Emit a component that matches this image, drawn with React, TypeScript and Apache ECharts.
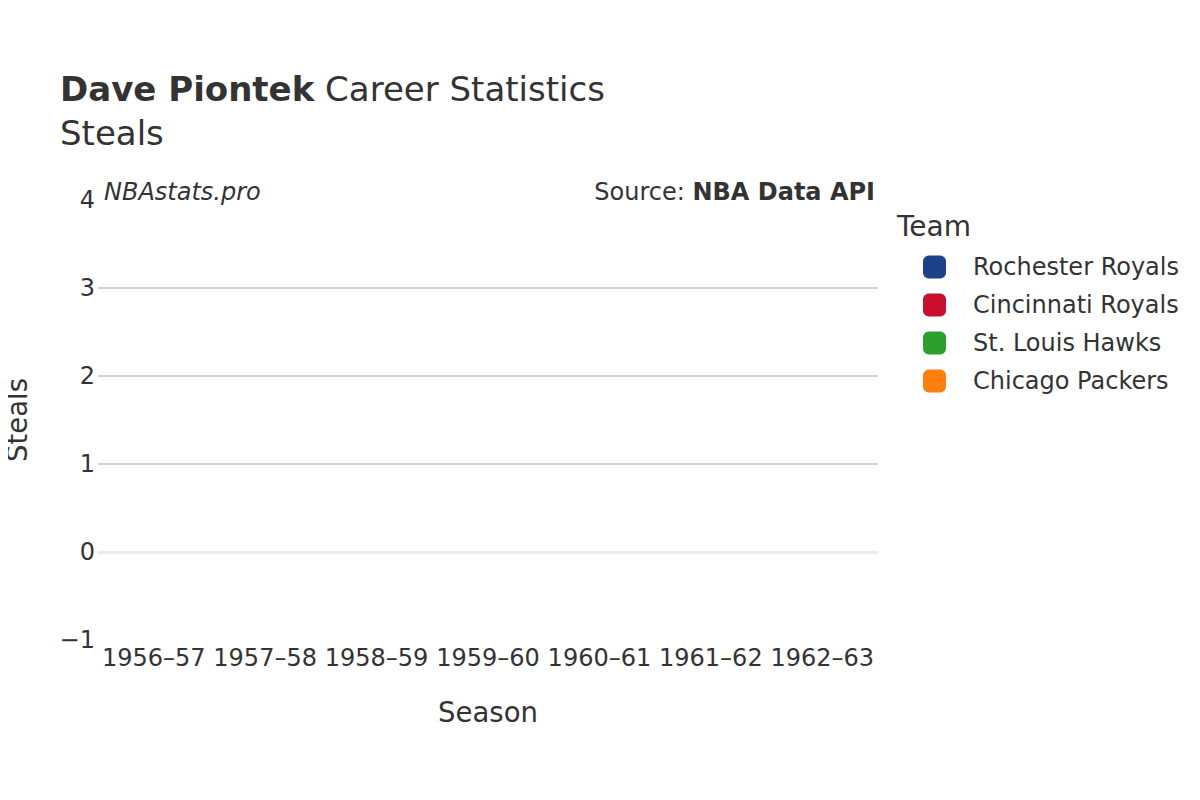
import React, { useEffect, useRef } from "react";
import * as echarts from "echarts";

const seasons = ["1956–57", "1957–58", "1958–59", "1959–60", "1960–61", "1961–62", "1962–63"];
const teams = ["Rochester Royals", "Cincinnati Royals", "St. Louis Hawks", "Chicago Packers"];
const teamColors = ["#1d428a", "#c8102e", "#2ca02c", "#ff7f0e"];
// No steals were recorded for any season (stat not tracked then)
const rochesterSteals: (number | null)[] = [];
const cincinnatiSteals: (number | null)[] = [];
const stLouisSteals: (number | null)[] = [];
const chicagoSteals: (number | null)[] = [];
const teamValues = [rochesterSteals, cincinnatiSteals, stLouisSteals, chicagoSteals];
const yMin = -1;
const yMax = 4;

const FONT = "DejaVu Sans, Verdana, sans-serif";
const TXT = "#333333";

export default function App() {
  const ref = useRef<HTMLDivElement>(null);
  useEffect(() => {
    if (!ref.current) return;
    const chart = echarts.init(ref.current, undefined, { renderer: "svg" });
    const series: any[] = teams.map((t, i) => ({
      name: t,
      type: "line",
      data: teamValues[i],
      itemStyle: { color: teamColors[i] },
      lineStyle: { color: teamColors[i] },
      ...(i === 0
        ? {
            markLine: {
              silent: true,
              symbol: "none",
              label: { show: false },
              lineStyle: { color: "#ebebeb", width: 3, type: "solid" },
              data: [{ yAxis: 0 }],
            },
          }
        : {}),
    }));
    chart.setOption({
      animation: false,
      backgroundColor: "#ffffff",
      textStyle: { fontFamily: FONT, color: TXT },
      title: [
        {
          text: "{b|Dave Piontek} Career Statistics\nSteals",
          left: 55,
          top: 62,
          textStyle: {
            fontFamily: FONT,
            fontSize: 34,
            color: TXT,
            fontWeight: "normal",
            lineHeight: 44,
            rich: {
              b: { fontFamily: FONT, fontSize: 34, fontWeight: "bold", color: TXT, lineHeight: 44 },
            },
          },
        },
        {
          text: "NBAstats.pro",
          left: 99,
          top: 175,
          textStyle: { fontFamily: FONT, fontSize: 24, fontStyle: "italic", fontWeight: "normal", color: TXT },
        },
        {
          text: "{n|Source: }{b|NBA Data API}",
          right: 320,
          top: 175,
          textStyle: {
            fontFamily: FONT,
            fontSize: 24,
            fontWeight: "normal",
            color: TXT,
            rich: {
              n: { fontFamily: FONT, fontSize: 24, color: TXT, fontWeight: "normal" },
              b: { fontFamily: FONT, fontSize: 24, color: TXT, fontWeight: "bold" },
            },
          },
        },
      ],
      legend: {
        orient: "vertical",
        left: 918,
        top: 250,
        icon: "roundRect",
        itemWidth: 23,
        itemHeight: 23,
        itemGap: 14,
        data: teams,
        textStyle: { fontFamily: FONT, fontSize: 24, color: TXT, padding: [0, 0, 0, 22], lineHeight: 23 },
      },
      graphic: [
        {
          type: "text",
          left: 897,
          top: 212,
          style: { text: "Team", font: `28px ${FONT}`, fill: TXT },
        },
      ],
      grid: { left: 98, right: 322, top: 200, bottom: 160, containLabel: false, outerBoundsMode: "none" },
      xAxis: {
        type: "category",
        data: seasons,
        boundaryGap: true,
        name: "Season",
        nameLocation: "middle",
        nameGap: 58,
        nameTextStyle: { fontFamily: FONT, fontSize: 27.5, color: TXT },
        axisLine: { show: false },
        axisTick: { show: false },
        axisLabel: { fontFamily: FONT, fontSize: 24, color: TXT, margin: 6, interval: 0 },
        splitLine: { show: false },
      },
      yAxis: {
        type: "value",
        min: yMin,
        max: yMax,
        interval: 1,
        name: "Steals",
        nameLocation: "middle",
        nameGap: 67,
        nameTextStyle: { fontFamily: FONT, fontSize: 27.5, color: TXT },
        axisLine: { show: false },
        axisTick: { show: false },
        axisLabel: {
          fontFamily: FONT,
          fontSize: 24,
          color: TXT,
          margin: 3,
          formatter: (v: number) => (v < 0 ? "−" + Math.abs(v) : String(v)),
        },
        splitLine: {
          show: true,
          showMinLine: false,
          showMaxLine: false,
          lineStyle: { color: ["rgba(0,0,0,0)", "#c0c0c0", "#c0c0c0", "#c0c0c0"], width: 1.5 },
        },
      },
      series,
    });
    return () => chart.dispose();
  }, []);
  return <div ref={ref} style={{ width: 1200, height: 800, margin: -8 }} />;
}
